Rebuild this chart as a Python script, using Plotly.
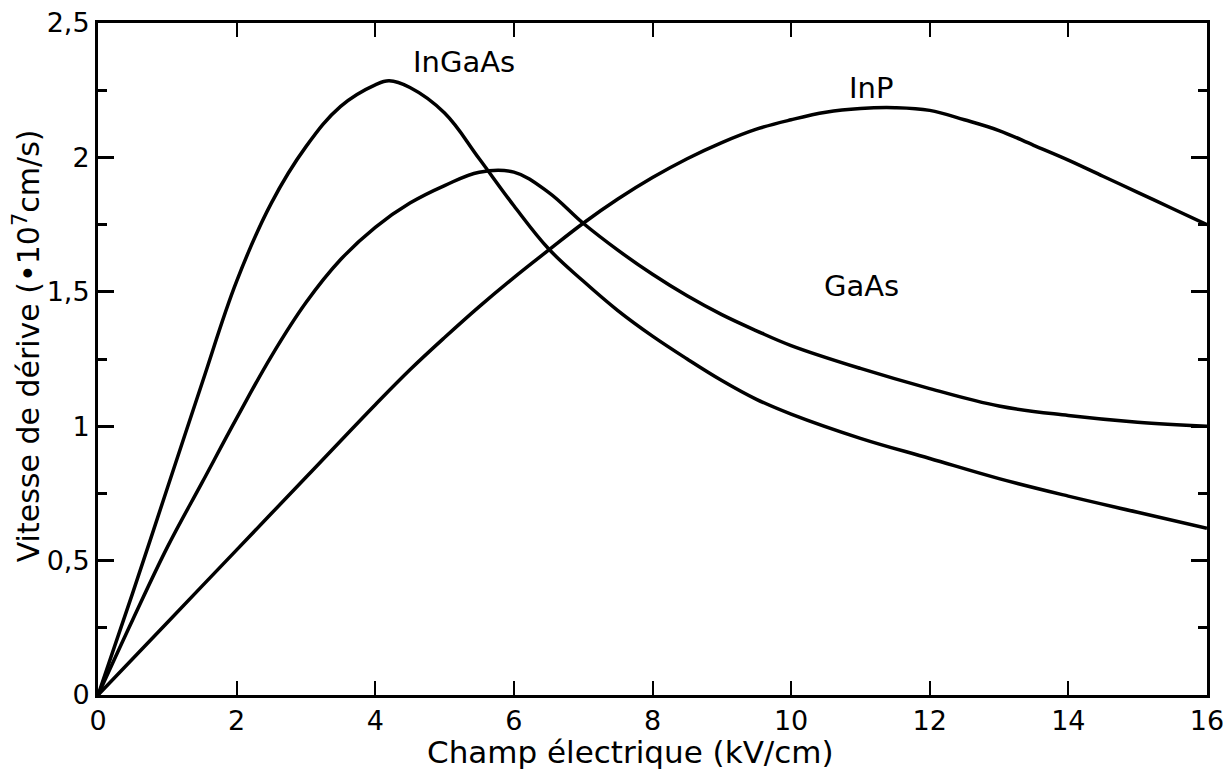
import plotly.graph_objects as go

# Data (x: kV/cm, y: 1e7 cm/s)
x_ingaas = [0, 0.5, 1, 1.5, 2, 2.5, 3, 3.5, 4, 4.2, 4.5, 5, 5.5, 6, 6.5, 7, 7.5, 8, 8.5, 9, 9.5, 10, 11, 12, 13, 14, 15, 16]
y_ingaas = [0, 0.38, 0.77, 1.16, 1.54, 1.83, 2.04, 2.19, 2.27, 2.285, 2.26, 2.165, 1.995, 1.82, 1.66, 1.54, 1.43, 1.335, 1.25, 1.17, 1.10, 1.045, 0.955, 0.88, 0.805, 0.74, 0.68, 0.62]

x_gaas = [0, 0.5, 1, 1.5, 2, 2.5, 3, 3.5, 4, 4.5, 5, 5.5, 6, 6.5, 7, 7.5, 8, 8.5, 9, 9.5, 10, 11, 12, 13, 14, 15, 16]
y_gaas = [0, 0.28, 0.55, 0.79, 1.03, 1.26, 1.46, 1.62, 1.74, 1.83, 1.895, 1.945, 1.945, 1.87, 1.755, 1.655, 1.565, 1.485, 1.415, 1.355, 1.30, 1.215, 1.14, 1.075, 1.04, 1.015, 1.00]

x_inp = [0, 1, 2, 3, 4, 4.5, 5, 5.5, 6, 6.5, 7, 7.5, 8, 8.5, 9, 9.5, 10, 10.5, 11, 11.5, 12, 12.5, 13, 13.5, 14, 14.5, 15, 15.5, 16]
y_inp = [0, 0.27, 0.54, 0.81, 1.08, 1.21, 1.33, 1.445, 1.553, 1.655, 1.755, 1.845, 1.925, 1.995, 2.055, 2.105, 2.14, 2.168, 2.182, 2.185, 2.175, 2.14, 2.10, 2.045, 1.99, 1.93, 1.87, 1.81, 1.75]

x_ticks = [0, 2, 4, 6, 8, 10, 12, 14, 16]
x_ticktext = ["0", "2", "4", "6", "8", "10", "12", "14", "16"]
y_ticks = [0, 0.5, 1, 1.5, 2, 2.5]
y_ticktext = ["0", "0,5", "1", "1,5", "2", "2,5"]

labels = ["InGaAs", "InP", "GaAs"]
label_x = [5.28, 11.15, 11.02]
label_y = [2.355, 2.26, 1.52]

FONT = "DejaVu Sans"

fig = go.Figure()
for xs, ys in [(x_ingaas, y_ingaas), (x_gaas, y_gaas), (x_inp, y_inp)]:
    fig.add_trace(go.Scatter(x=xs, y=ys, mode="lines",
                             line=dict(color="black", width=3.5, shape="spline", smoothing=1.1),
                             showlegend=False, hoverinfo="skip"))

for t, lx, ly in zip(labels, label_x, label_y):
    fig.add_annotation(x=lx, y=ly, text=t, showarrow=False,
                       font=dict(family=FONT, size=29, color="black"))

# Axis titles placed as paper annotations to match the reference position
fig.add_annotation(xref="paper", yref="paper", x=0.48, y=-0.085,
                   text="Champ électrique (kV/cm)", showarrow=False,
                   xanchor="center", yanchor="middle",
                   font=dict(family=FONT, size=31, color="black"))
fig.add_annotation(xref="paper", yref="paper", x=-0.064, y=0.519,
                   text="Vitesse de dérive (•10<sup>7</sup>cm/s)", showarrow=False,
                   textangle=-90, xanchor="center", yanchor="middle",
                   font=dict(family=FONT, size=30, color="black"))

fig.update_layout(
    width=1223, height=771,
    margin=dict(l=98, r=16, t=23, b=76),
    paper_bgcolor="white", plot_bgcolor="white",
    font=dict(family=FONT, color="black"),
)
fig.update_xaxes(
    range=[-0.001, 16.001], tickvals=x_ticks, ticktext=x_ticktext,
    ticks="inside", ticklen=14, tickwidth=2, tickcolor="black",
    showline=True, linewidth=3, linecolor="black", mirror="allticks",
    showgrid=False, zeroline=False, ticklabeloverflow="allow", automargin=False,
    tickfont=dict(family=FONT, size=27, color="black"),
)
fig.update_yaxes(
    range=[0, 2.5], tickvals=y_ticks, ticktext=y_ticktext,
    ticks="inside", ticklen=16, tickwidth=3, tickcolor="black",
    minor=dict(dtick=0.25, ticks="inside", ticklen=9, tickwidth=3, tickcolor="black", showgrid=False),
    showline=True, linewidth=3, linecolor="black", mirror="allticks",
    showgrid=False, zeroline=False, ticklabeloverflow="allow", automargin=False,
    tickfont=dict(family=FONT, size=27, color="black"),
)

fig.write_html("out.html")
